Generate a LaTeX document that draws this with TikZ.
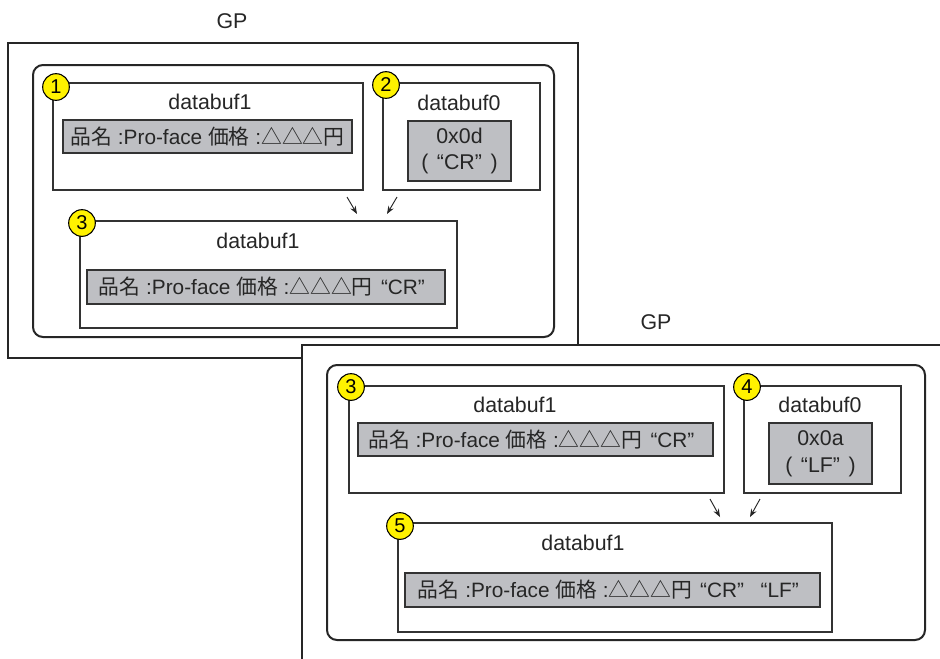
\documentclass[tikz,border=0pt]{standalone}
\usepackage{fontspec}
\setmainfont{Liberation Sans}
\newfontfamily\cjk{Noto Sans CJK JP}
\usetikzlibrary{fit,arrows.meta}
\definecolor{bufgray}{RGB}{190,191,195}
\definecolor{numyellow}{RGB}{255,242,0}
\newcommand{\valtext}{{\cjk 品名} :Pro-face {\cjk 価格} :{\cjk △△△円}}
\newcommand{\qq}[1]{\hspace{0.4em}“#1”\hspace{0.4em}}
\begin{document}
\begin{tikzpicture}[x=0.75pt,y=-0.75pt,
  frame/.style={draw=black!85, line width=2.2pt, fill=white},
  group/.style={draw=black!85, line width=1.5pt, rounded corners=7.5pt},
  buf/.style={draw=black!80, line width=1pt, inner sep=0pt},
  val/.style={draw=black!80, line width=0.8pt, fill=bufgray, inner sep=0pt},
  lbl/.style={inner sep=0pt, text=black!85, font=\fontsize{16}{19}\selectfont},
  vtxt/.style={inner sep=0pt, text=black!85, font=\fontsize{15.6}{19}\selectfont},
  vlbl/.style={inner sep=0pt, text=black!85, align=center, font=\fontsize{16}{20}\selectfont},
  num/.style={circle, draw=black, line width=0.8pt, fill=numyellow, minimum size=20pt, inner sep=0pt, font=\fontsize{15}{15}\selectfont},
  arr/.style={-{Stealth[length=6pt,width=4.5pt]}, line width=0.7pt, draw=black!85}
]
\useasboundingbox (0,0) rectangle (940,658);

% ---------- upper GP ----------
\node[lbl] (gp1) at (232,21) {GP};
\draw[frame] (8,43) rectangle (578,358);
\draw[group] (33,65) rectangle (554,337);

\node[buf, fit={(53,83) (363,190)}] (b1) {};
\node[lbl] (b1t) at (210,102) {databuf1};
\node[val, fit={(63,120) (352,153)}] (v1) {};
\node[vtxt] (v1t) at (v1.center) {\valtext};
\node[num] (n1) at (56,87) {1};

\node[buf, fit={(383,83) (540,190)}] (b2) {};
\node[lbl] (b2t) at (459,103) {databuf0};
\node[val, fit={(408,121) (511,181)}] (v2) {};
\node[vlbl] (v2t) at (v2.center) {0x0d\\(\qq{CR})};
\node[num] (n2) at (386,85) {2};

\coordinate (a1s) at (347,197);
\coordinate (a1e) at (357,214);
\coordinate (a2s) at (397,197);
\coordinate (a2e) at (387,214);
\draw[arr] (a1s) -- (a1e);
\draw[arr] (a2s) -- (a2e);

\node[buf, fit={(80,221) (457,328)}] (b3) {};
\node[lbl] (b3t) at (258,241) {databuf1};
\node[val, fit={(87,270) (445,304)}] (v3) {};
\node[vtxt] (v3t) at (v3.center) {\valtext\qq{CR}\hspace{-0.4em}};
\node[num] (n3) at (82,223) {3};

% ---------- lower GP ----------
\node[lbl] (gp2) at (656,322) {GP};
\draw[frame] (302,345) rectangle (960,690);
\draw[group] (327,365) rectangle (925,640);

\node[buf, fit={(349,386) (724,493)}] (b4) {};
\node[lbl] (b4t) at (515,405) {databuf1};
\node[val, fit={(358,423) (713,456)}] (v4) {};
\node[vtxt] (v4t) at (v4.center) {\valtext\qq{CR}\hspace{-0.4em}};
\node[num] (n4) at (351,387) {3};

\node[buf, fit={(744,386) (901,493)}] (b5) {};
\node[lbl] (b5t) at (820,405) {databuf0};
\node[val, fit={(769,423) (872,484)}] (v5) {};
\node[vlbl] (v5t) at (v5.center) {0x0a\\(\qq{LF})};
\node[num] (n5) at (747,387) {4};

\coordinate (a3s) at (710,499);
\coordinate (a3e) at (720,517);
\coordinate (a4s) at (760,499);
\coordinate (a4e) at (750,517);
\draw[arr] (a3s) -- (a3e);
\draw[arr] (a4s) -- (a4e);

\node[buf, fit={(398,523) (832,632)}] (b6) {};
\node[lbl] (b6t) at (583,543) {databuf1};
\node[val, fit={(405,573) (820,607)}] (v6) {};
\node[vtxt] (v6t) at (v6.center) {\valtext\qq{CR}\qq{LF}\hspace{-0.4em}};
\node[num] (n6) at (400,526) {5};
\end{tikzpicture}
\end{document}
